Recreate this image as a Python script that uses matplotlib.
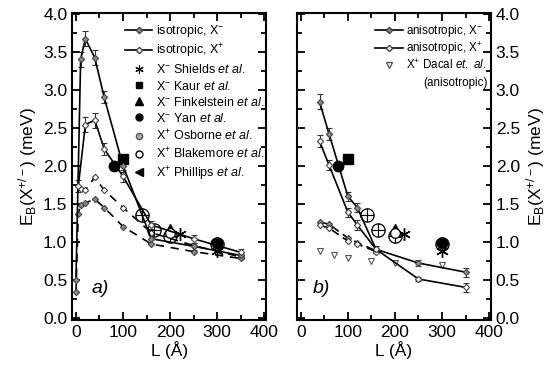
import matplotlib
matplotlib.use("Agg")
import matplotlib.pyplot as plt
import matplotlib.lines as mlines
from matplotlib.ticker import MultipleLocator, FormatStrFormatter

plt.rcParams['font.family'] = ['Liberation Sans', 'DejaVu Sans']
plt.rcParams['mathtext.fontset'] = 'custom'
plt.rcParams['mathtext.rm'] = 'Liberation Sans'
plt.rcParams['mathtext.it'] = 'Liberation Sans:italic'

# ---- panel a (isotropic) ----
iso_xm_L = [0, 10, 20, 40, 60, 100, 160, 250, 350]
iso_xm = [0.50, 3.40, 3.67, 3.42, 2.90, 2.00, 1.04, 0.94, 0.82]
iso_xm_err = [0.0, 0.10, 0.10, 0.10, 0.08, 0.08, 0.05, 0.05, 0.05]

iso_xp_L = [5, 20, 40, 60, 100, 160, 250, 350]
iso_xp = [1.73, 2.54, 2.60, 2.22, 1.86, 1.22, 1.04, 0.86]
iso_xp_err = [0.08, 0.10, 0.10, 0.08, 0.08, 0.05, 0.05, 0.05]

dash_xp_L = [10, 20, 40, 60, 100, 160, 250, 350]
dash_xp = [1.70, 1.68, 1.85, 1.68, 1.45, 1.12, 0.95, 0.80]

dash_xm_L = [0, 5, 10, 20, 40, 60, 100, 160, 250, 350]
dash_xm = [0.34, 1.36, 1.49, 1.51, 1.56, 1.45, 1.20, 0.97, 0.87, 0.78]

# ---- panel b (anisotropic) ----
an_xm_L = [40, 60, 100, 120, 160, 250, 350]
an_xm = [2.84, 2.42, 1.60, 1.45, 0.90, 0.72, 0.60]
an_xm_err = [0.10, 0.08, 0.06, 0.06, 0.05, 0.04, 0.06]

an_xp_L = [40, 60, 100, 120, 160, 250, 350]
an_xp = [2.32, 2.01, 1.39, 1.22, 0.90, 0.51, 0.40]
an_xp_err = [0.08, 0.06, 0.06, 0.06, 0.05, 0.03, 0.06]

an_dash_xm_L = [40, 60, 100, 120, 160]
an_dash_xm = [1.26, 1.23, 1.05, 0.99, 0.88]
an_dash_xp_L = [40, 60, 100, 120, 160]
an_dash_xp = [1.22, 1.18, 1.01, 0.97, 0.87]

dacal_L = [40, 70, 100, 150, 200, 300]
dacal = [0.88, 0.83, 0.79, 0.75, 0.72, 0.69]

# ---- experiments ----
shields_L = [220, 300]; shields = [1.10, 0.88]
kaur_L = [100]; kaur = [2.09]
fink_L = [200]; fink = [1.17]
yan_L = [80, 300]; yan = [2.00, 0.98]
osb_L = [140, 165, 200, 300]; osb = [1.35, 1.15, 1.08, 0.97]
blake_L = [200]; blake = [1.12]
phil_L = [300]; phil = [0.96]

fig = plt.figure(figsize=(5.51, 3.70), dpi=100)
ax1 = fig.add_axes([0.131, 0.135, 0.352, 0.830])
ax2 = fig.add_axes([0.539, 0.135, 0.352, 0.830])

gray = '#8a8a8a'
lw = 1.2
mk = dict(ms=3.2, mew=0.8)

def style(ax, right=False):
    ax.set_xlim(-8, 404)
    ax.set_ylim(-0.03, 4.01)
    ax.xaxis.set_major_locator(MultipleLocator(100))
    ax.xaxis.set_minor_locator(MultipleLocator(50))
    ax.yaxis.set_major_locator(MultipleLocator(0.5))
    ax.yaxis.set_minor_locator(MultipleLocator(0.25))
    ax.tick_params(which='both', direction='in', top=True, right=True, left=True,
                   labelsize=12.5, width=1.3)
    ax.tick_params(which='major', length=6)
    ax.tick_params(which='minor', length=3.5)
    ax.yaxis.set_major_formatter(FormatStrFormatter('%.1f'))
    for s in ax.spines.values():
        s.set_linewidth(1.5)
    ax.set_xlabel('L (Å)', fontsize=12.5, labelpad=1)
    ax.set_ylabel(r'E$_{\mathrm{B}}$(X$^{+/-}$) (meV)', fontsize=12.5, labelpad=3)
    if right:
        ax.yaxis.tick_right()
        ax.tick_params(which='both', left=True, labelleft=False, labelright=True)
        ax.yaxis.set_label_position('right')
        ax.yaxis.label.set_rotation(90)

style(ax1)
style(ax2, right=True)

eb = dict(capsize=2.5, elinewidth=0.8, capthick=0.8, ecolor='#333333')

# panel a
ax1.errorbar(iso_xm_L, iso_xm, yerr=iso_xm_err, color='black', lw=lw, marker='D',
             mfc=gray, mec='#444444', **mk, **eb)
ax1.errorbar(iso_xp_L, iso_xp, yerr=iso_xp_err, color='black', lw=lw, marker='D',
             mfc='white', mec='#444444', **mk, **eb)
ax1.plot(dash_xp_L, dash_xp, color='black', lw=lw, ls=(0, (5, 4)), marker='D',
         mfc='white', mec='#444444', **mk)
ax1.plot(dash_xm_L, dash_xm, color='black', lw=lw, ls=(0, (5, 4)), marker='D',
         mfc=gray, mec='#444444', **mk)

exp_labels = [r'X$^{-}$ Shields $\it{et\ al.}$', r'X$^{-}$ Kaur $\it{et\ al.}$',
              r'X$^{-}$ Finkelstein $\it{et\ al.}$', r'X$^{-}$ Yan $\it{et\ al.}$',
              r'X$^{+}$ Osborne $\it{et\ al.}$', r'X$^{+}$ Blakemore $\it{et\ al.}$',
              r'X$^{+}$ Phillips $\it{et\ al.}$']

def experiments(ax):
    ax.plot(shields_L, shields, ls='none', marker=(6, 2, 0), ms=9, mew=1.0, color='black')
    ax.plot(kaur_L, kaur, ls='none', marker='s', ms=6.5, color='black')
    ax.plot(fink_L, fink, ls='none', marker='^', ms=7.5, color='black')
    ax.plot(yan_L, yan, ls='none', marker='o', ms=7.5, color='black')
    ax.plot(osb_L, osb, ls='none', marker=r'$\oplus$', ms=10, color='black', mew=0.4)
    ax.plot(blake_L, blake, ls='none', marker='o', ms=7, mfc='white', mec='black', mew=0.9)
    ax.plot(phil_L, phil, ls='none', marker='<', ms=6, color='black')

experiments(ax1)
experiments(ax2)

leg_handles = [mlines.Line2D([], [], color='black', lw=lw, marker='D', mfc=gray, mec='#444444', ms=3.2),
               mlines.Line2D([], [], color='black', lw=lw, marker='D', mfc='white', mec='#444444', ms=3.2),
               mlines.Line2D([], [], ls='none', marker=(6, 2, 0), ms=6, mew=0.8, color='black'),
               mlines.Line2D([], [], ls='none', marker='s', ms=5, color='black'),
               mlines.Line2D([], [], ls='none', marker='^', ms=5.5, color='black'),
               mlines.Line2D([], [], ls='none', marker='o', ms=5, color='black'),
               mlines.Line2D([], [], ls='none', marker='o', ms=4.5, mfc='#aaaaaa', mec='#555555'),
               mlines.Line2D([], [], ls='none', marker='o', ms=5, mfc='white', mec='black'),
               mlines.Line2D([], [], ls='none', marker='<', ms=5.5, color='black')]
labels = [r'isotropic, X$^{-}$', r'isotropic, X$^{+}$'] + exp_labels
leg1 = ax1.legend(leg_handles, labels, loc='upper right', bbox_to_anchor=(1.005, 0.975),
                  frameon=False, fontsize=9.0, handlelength=2.2, handletextpad=0.3,
                  borderaxespad=0.0, labelspacing=0.25, borderpad=0.2)
leg1.set_zorder(10)

ax1.text(33, 0.38, 'a)', fontsize=14, style='italic', va='center')

# panel b
ax2.errorbar(an_xm_L, an_xm, yerr=an_xm_err, color='black', lw=lw, marker='D',
             mfc=gray, mec='#444444', **mk, **eb)
ax2.errorbar(an_xp_L, an_xp, yerr=an_xp_err, color='black', lw=lw, marker='D',
             mfc='white', mec='#444444', **mk, **eb)
ax2.plot(an_dash_xm_L, an_dash_xm, color='black', lw=lw, ls=(0, (5, 3)), marker='D',
         mfc=gray, mec='#444444', **mk)
ax2.plot(an_dash_xp_L, an_dash_xp, color='black', lw=lw, ls=(0, (5, 3)), marker='D',
         mfc='white', mec='#444444', **mk)
ax2.plot(dacal_L, dacal, ls='none', marker='v', ms=4.5, mfc='white', mec='#555555', mew=0.8)

leg2_handles = [mlines.Line2D([], [], color='black', lw=lw, marker='D', mfc=gray, mec='#444444', ms=3.2),
                mlines.Line2D([], [], color='black', lw=lw, marker='D', mfc='white', mec='#444444', ms=3.2),
                mlines.Line2D([], [], ls='none', marker='v', ms=4.5, mfc='white', mec='#555555')]
labels2 = [r'anisotropic, X$^{-}$', r'anisotropic, X$^{+}$',
           r'X$^{+}$ Dacal $\it{et.\ al.}$']
ax2.legend(leg2_handles, labels2, loc='upper right', bbox_to_anchor=(0.99, 0.975),
           frameon=False, fontsize=8.4, handlelength=2.4, handletextpad=0.3,
           borderaxespad=0.0, labelspacing=0.12, borderpad=0.2)
ax2.text(0.985, 0.772, '(anisotropic)', transform=ax2.transAxes, fontsize=8.4,
         ha='right', va='center')

ax2.text(25, 0.38, 'b)', fontsize=14, style='italic', va='center')

fig.savefig('out.png', dpi=100)
